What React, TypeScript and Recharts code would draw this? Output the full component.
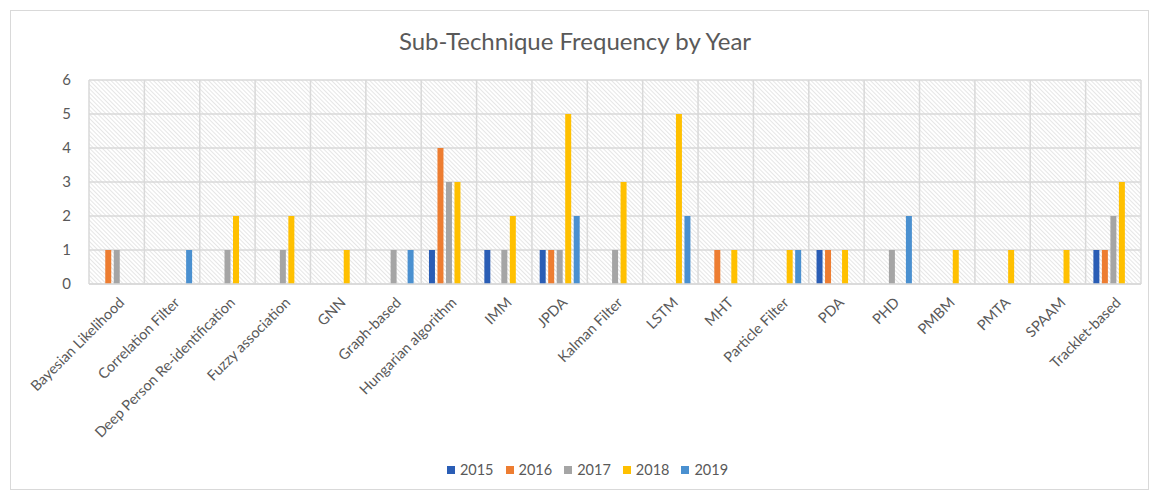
import React from "react";
import { BarChart, Bar, XAxis, YAxis, CartesianGrid, Legend } from "recharts";

const categories = [
  "Bayesian Likelihood", "Correlation Filter", "Deep Person Re-identification", "Fuzzy association",
  "GNN", "Graph-based", "Hungarian algorithm", "IMM", "JPDA", "Kalman Filter", "LSTM", "MHT",
  "Particle Filter", "PDA", "PHD", "PMBM", "PMTA", "SPAAM", "Tracklet-based",
];
const y2015 = [0, 0, 0, 0, 0, 0, 1, 1, 1, 0, 0, 0, 0, 1, 0, 0, 0, 0, 1];
const y2016 = [1, 0, 0, 0, 0, 0, 4, 0, 1, 0, 0, 1, 0, 1, 0, 0, 0, 0, 1];
const y2017 = [1, 0, 1, 1, 0, 1, 3, 1, 1, 1, 0, 0, 0, 0, 1, 0, 0, 0, 2];
const y2018 = [0, 0, 2, 2, 1, 0, 3, 2, 5, 3, 5, 1, 1, 1, 0, 1, 1, 1, 3];
const y2019 = [0, 1, 0, 0, 0, 1, 0, 0, 2, 0, 2, 0, 1, 0, 2, 0, 0, 0, 0];
const yTicks = [0, 1, 2, 3, 4, 5, 6];
const seriesNames = ["2015", "2016", "2017", "2018", "2019"];
const seriesColors = ["#2A5DB5", "#ED7D31", "#A5A5A5", "#FFC000", "#4A90D0"];

const data = categories.map((name, i) => ({
  name,
  "2015": y2015[i],
  "2016": y2016[i],
  "2017": y2017[i],
  "2018": y2018[i],
  "2019": y2019[i],
}));

const FONT = "Lato, 'Open Sans', sans-serif";

const XTick = (props: any) => {
  const { x, y, payload } = props;
  return (
    <g transform={`translate(${x + 5},${y + 8})`}>
      <text textAnchor="end" transform="rotate(-45)" fill="#595959" fontSize={14.5} fontFamily={FONT} dy={5}>
        {payload.value}
      </text>
    </g>
  );
};

const vGen = ({ offset }: any) => {
  const n = categories.length;
  const arr: number[] = [];
  for (let i = 0; i <= n; i++) arr.push(offset.left + (i * offset.width) / n);
  return arr;
};

const LegendContent = () => (
  <div style={{ display: "flex", justifyContent: "center", alignItems: "center", fontFamily: FONT, fontSize: 14.5, color: "#595959", paddingTop: 14, paddingLeft: 34 }}>
    {seriesNames.map((s, i) => (
      <span key={s} style={{ display: "inline-flex", alignItems: "center", marginLeft: i === 0 ? 0 : 12 }}>
        <span style={{ width: 8, height: 8, background: seriesColors[i], display: "inline-block", marginRight: 5 }} />
        {s}
      </span>
    ))}
  </div>
);

export default function App() {
  return (
    <div style={{ position: "absolute", left: 0, top: 0, width: 1150, height: 491, background: "#fff" }}>
      <svg width={0} height={0} style={{ position: "absolute" }}>
        <defs>
          <pattern id="hatch" width="3" height="3" patternUnits="userSpaceOnUse" patternTransform="rotate(-45)">
            <rect width="3" height="3" fill="#ffffff" />
            <line x1="0" y1="0" x2="0" y2="3" stroke="#d2d2d2" strokeWidth={1.1} />
          </pattern>
        </defs>
      </svg>
      <div style={{ position: "absolute", left: 10, top: 10, width: 1139, height: 480, border: "1px solid #d9d9d9", boxSizing: "border-box" }} />
      <div style={{ position: "absolute", left: 0, top: 26, width: 1150, textAlign: "center", fontFamily: FONT, fontSize: 24, color: "#595959" }}>
        Sub-Technique Frequency by Year
      </div>
      <div style={{ position: "absolute", left: 0, top: 0 }}>
        <BarChart width={1150} height={491} data={data} margin={{ top: 80, right: 9, bottom: 0, left: 0 }} barGap={2.5} barCategoryGap="14%">
          <CartesianGrid fill="url(#hatch)" fillOpacity={1} stroke="#d9d9d9" strokeWidth={1.5} verticalCoordinatesGenerator={vGen} />
          <XAxis dataKey="name" interval={0} tick={<XTick />} tickLine={false} axisLine={{ stroke: "#d9d9d9", strokeWidth: 1.5 }} height={163} />
          <YAxis domain={[0, 6]} ticks={yTicks} width={89} tickLine={false} axisLine={false} tickMargin={12} tick={{ fill: "#595959", fontSize: 15, fontFamily: FONT }} />
          <Legend verticalAlign="bottom" height={44} content={<LegendContent />} />
          {seriesNames.map((s, i) => (
            <Bar key={s} dataKey={s} fill={seriesColors[i]} isAnimationActive={false} />
          ))}
        </BarChart>
      </div>
    </div>
  );
}
